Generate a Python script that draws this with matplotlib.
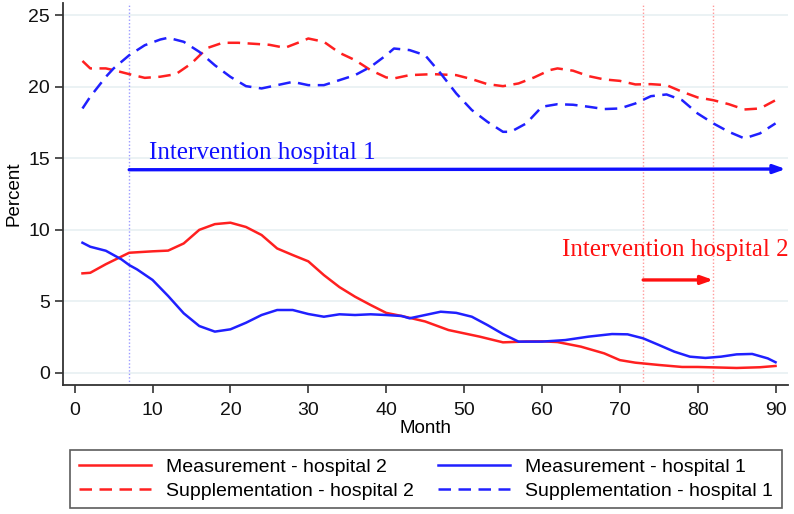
import matplotlib
matplotlib.use("Agg")
import matplotlib.pyplot as plt

# ---------------------------
# Data
# ---------------------------
meas_h2_month = [1, 2, 4, 7, 10, 12, 14, 16, 18, 20, 22, 24, 26, 28, 30, 32, 34, 36, 38, 40,
                 42, 45, 48, 50, 52, 55, 58, 60, 62, 65, 68, 70, 72, 75, 78, 80, 85, 88, 90]
meas_h2 = [6.96, 7.0, 7.6, 8.4, 8.5, 8.55, 9.05, 10.0, 10.4, 10.5, 10.2, 9.64, 8.7, 8.24, 7.8,
           6.84, 6.0, 5.33, 4.75, 4.2, 3.98, 3.6, 3.0, 2.77, 2.54, 2.14, 2.2, 2.21, 2.16, 1.84,
           1.37, 0.9, 0.72, 0.56, 0.42, 0.42, 0.35, 0.4, 0.49]

meas_h1_month = [1, 2, 4, 6, 7, 8, 10, 12, 14, 16, 18, 20, 22, 24, 26, 28, 30, 32, 34, 36, 38,
                 40, 42, 43, 45, 47, 49, 51, 53, 55, 57, 60, 63, 66, 69, 71, 73, 75, 77, 79, 81,
                 83, 85, 87, 89, 90]
meas_h1 = [9.1, 8.82, 8.54, 7.94, 7.54, 7.24, 6.5, 5.38, 4.17, 3.28, 2.89, 3.05, 3.51, 4.05, 4.4,
           4.4, 4.12, 3.93, 4.1, 4.05, 4.1, 4.05, 3.98, 3.82, 4.05, 4.28, 4.2, 3.93, 3.35, 2.72,
           2.19, 2.19, 2.3, 2.54, 2.72, 2.7, 2.42, 1.96, 1.49, 1.14, 1.05, 1.14, 1.3, 1.33, 1.02, 0.75]

supp_h2_month = [1, 2, 4, 5, 7, 9, 11, 13, 15, 17, 19, 21, 23, 25, 27, 29, 30, 32, 34, 36, 38,
                 40, 41, 43, 46, 49, 51, 53, 55, 57, 59, 61, 62, 64, 66, 68, 70, 72, 74, 76, 78,
                 80, 82, 84, 86, 88, 90]
supp_h2 = [21.8, 21.28, 21.28, 21.16, 20.88, 20.62, 20.7, 20.88, 21.63, 22.7, 23.07, 23.07, 23.0,
           22.93, 22.72, 23.14, 23.37, 23.14, 22.37, 21.86, 21.16, 20.65, 20.58, 20.81, 20.88,
           20.81, 20.53, 20.18, 20.04, 20.23, 20.65, 21.16, 21.28, 21.12, 20.74, 20.51, 20.41,
           20.16, 20.18, 20.11, 19.65, 19.25, 19.06, 18.78, 18.41, 18.48, 19.06]

supp_h1_month = [1, 2, 4, 5, 7, 9, 11, 12, 14, 16, 18, 20, 22, 24, 26, 28, 30, 32, 34, 36, 38,
                 40, 41, 43, 45, 47, 49, 51, 53, 55, 56, 58, 60, 62, 64, 66, 68, 70, 72, 74, 76,
                 78, 80, 82, 84, 86, 88, 90]
supp_h1 = [18.48, 19.3, 20.69, 21.28, 22.2, 22.9, 23.3, 23.42, 23.14, 22.44, 21.5, 20.69, 20.04,
           19.88, 20.11, 20.34, 20.11, 20.11, 20.46, 20.81, 21.39, 22.2, 22.67, 22.56, 22.2, 20.93,
           19.53, 18.37, 17.55, 16.85, 16.85, 17.44, 18.6, 18.78, 18.74, 18.6, 18.44, 18.48, 18.83,
           19.34, 19.46, 19.06, 18.13, 17.44, 16.85, 16.39, 16.74, 17.44]

x_ticks = [0, 10, 20, 30, 40, 50, 60, 70, 80, 90]
y_ticks = [0, 5, 10, 15, 20, 25]

start_h1 = 7
start_h2 = 73
end_h2 = 82

RED = "#ff2020"
BLUE = "#2020ff"

# ---------------------------
# Figure
# ---------------------------
fig = plt.figure(figsize=(7.94, 5.14), dpi=100)
ax = fig.add_axes([63 / 794, 1 - 385 / 514, (788 - 63) / 794, (385 - 3) / 514])

sans = "Liberation Sans"
serif = "Liberation Serif"

for yt in y_ticks:
    ax.axhline(yt, color="#e8f0f2", lw=1.2, zorder=0)

ax.axvline(start_h1, color="#9a9aff", lw=1.0, ls=(0, (1, 1.5)), zorder=1)
ax.axvline(start_h2, color="#ff9a9a", lw=1.0, ls=(0, (1, 1.5)), zorder=1)
ax.axvline(end_h2, color="#ff9a9a", lw=1.0, ls=(0, (1, 1.5)), zorder=1)

dash = (0, (5, 3))
ax.plot(meas_h2_month, meas_h2, color=RED, lw=1.8, label="Measurement - hospital 2")
ax.plot(supp_h2_month, supp_h2, color=RED, lw=1.8, ls=dash, label="Supplementation - hospital 2")
ax.plot(meas_h1_month, meas_h1, color=BLUE, lw=1.8, label="Measurement - hospital 1")
ax.plot(supp_h1_month, supp_h1, color=BLUE, lw=1.8, ls=dash, label="Supplementation - hospital 1")

# intervention arrows
ax.annotate("", xy=(91.3, 14.25), xytext=(start_h1, 14.2),
            arrowprops=dict(arrowstyle="-|>,head_length=0.7,head_width=0.25",
                            color="#1010ff", lw=2.4, shrinkA=0, shrinkB=0))
ax.text(9.6, 15.35, "Intervention hospital 1", color="#1010ff", family=serif,
        fontsize=18, va="center", ha="left")

ax.annotate("", xy=(end_h2, 6.5), xytext=(start_h2, 6.5),
            arrowprops=dict(arrowstyle="-|>,head_length=0.7,head_width=0.25",
                            color="#ff1010", lw=2.4, shrinkA=0, shrinkB=0))
ax.text(62.6, 8.6, "Intervention hospital 2", color="#ff1010", family=serif,
        fontsize=18, va="center", ha="left")

ax.set_xlim(-1.5, 91.6)
ax.set_ylim(-0.84, 25.85)
ax.set_xticks(x_ticks)
ax.set_yticks(y_ticks)
ax.tick_params(direction="out", length=6, width=1.2, color="#333333", labelsize=14,
               labelcolor="#111111")
ax.tick_params(axis="x", pad=6)
for lab in ax.get_xticklabels() + ax.get_yticklabels():
    lab.set_family(sans)

for side in ("top", "right"):
    ax.spines[side].set_visible(False)
for side in ("left", "bottom"):
    ax.spines[side].set_color("#333333")
    ax.spines[side].set_linewidth(1.3)

ax.set_xlabel("Month", family=sans, fontsize=13.5, labelpad=1)
ax.set_ylabel("Percent", family=sans, fontsize=13.5, labelpad=4)

handles, labels = ax.get_legend_handles_labels()
order = [0, 1, 2, 3]
leg = fig.legend([handles[i] for i in order], [labels[i] for i in order],
                 ncol=2, loc="center",
                 bbox_to_anchor=(70 / 794, 1 - 510 / 514, (782 - 70) / 794, 62 / 514),
                 mode="expand", frameon=True, fancybox=False, edgecolor="#333333",
                 prop={"family": sans, "size": 14}, handlelength=3.7, handletextpad=0.8,
                 columnspacing=2.0, labelspacing=0.3, borderpad=0.45, borderaxespad=0)
leg.get_frame().set_linewidth(1.2)

fig.savefig("out.png", dpi=100)
